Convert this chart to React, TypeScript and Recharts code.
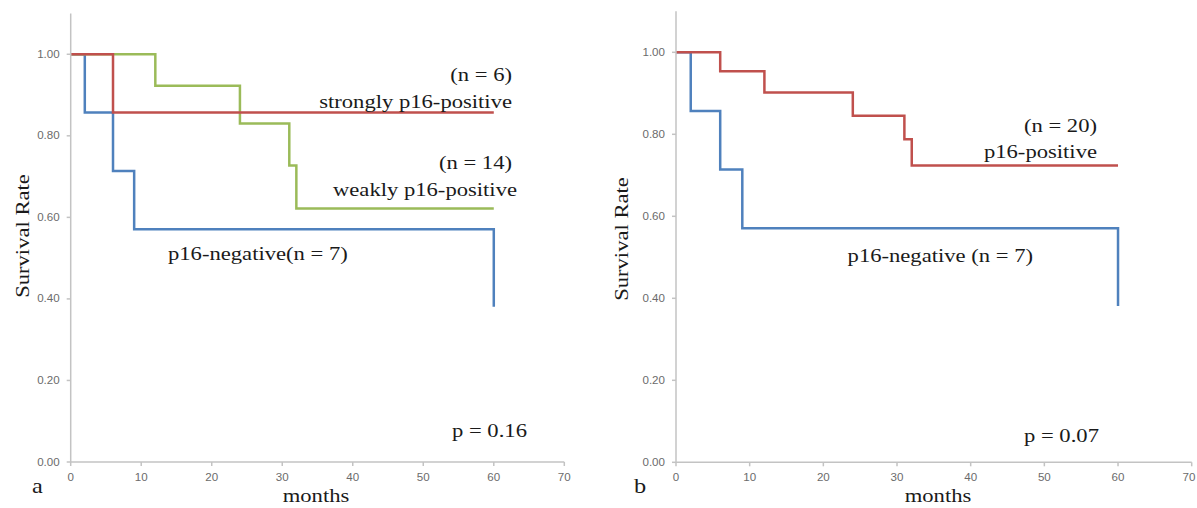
import { LineChart, Line, XAxis, YAxis } from "recharts";

// panel a
const negMonths = [0, 2, 6, 9, 60];
const negSurv = [1, 0.857, 0.714, 0.571, 0.381];
const strongMonths = [0, 6, 60];
const strongSurv = [1, 0.857, 0.857];
const weakMonths = [0, 12, 24, 31, 32, 60];
const weakSurv = [1, 0.923, 0.83, 0.727, 0.622, 0.622];

// panel b
const posMonths = [0, 6, 12, 24, 31, 32, 60];
const posSurv = [1, 0.954, 0.902, 0.845, 0.788, 0.724, 0.724];

const xTicks = [0, 10, 20, 30, 40, 50, 60, 70];
const yTicks = [0, 0.2, 0.4, 0.6, 0.8, 1.0];

const BLUE = "#4f81bd";
const RED = "#c0504d";
const GREEN = "#9bbb59";
const AXIS = "#c3c3c3";
const SX = 1.16; // source image is a bit wider than tall

const zip = (t: number[], s: number[]) => t.map((m, i) => ({ m, s: s[i] }));

const XTick = ({ x, y, payload }: any) => (
  <text transform={`translate(${x},${y}) scale(${SX},1)`} textAnchor="middle" dy="0.71em"
    fontFamily="Liberation Sans, Arial, sans-serif" fontSize={10} fill="#6b6b6b">
    {payload.value}
  </text>
);

const YTick = ({ x, y, payload }: any) => (
  <text transform={`translate(${x},${y}) scale(${SX},1)`} textAnchor="end" dy="0.355em"
    fontFamily="Liberation Sans, Arial, sans-serif" fontSize={10} fill="#6b6b6b">
    {Number(payload.value).toFixed(2)}
  </text>
);

type Series = { data: { m: number; s: number }[]; color: string };

function Panel({ left, width, margin, yWidth, series }: {
  left: number; width: number; yWidth: number;
  margin: { top: number; right: number; bottom: number; left: number };
  series: Series[];
}) {
  return (
    <div style={{ position: "absolute", left, top: 0 }}>
      <LineChart width={width} height={508} margin={margin}>
        <XAxis dataKey="m" type="number" domain={[0, 70]} ticks={xTicks} height={30}
          stroke={AXIS} strokeWidth={1.5} tickSize={4} tickMargin={8} tick={<XTick />}
          allowDuplicatedCategory={false} />
        <YAxis type="number" domain={[0, 1.1]} ticks={yTicks} width={yWidth}
          stroke={AXIS} strokeWidth={1.5} tickSize={4} tickMargin={7} tick={<YTick />} />
        {series.map((sr, i) => (
          <Line key={i} data={sr.data} dataKey="s" type="stepAfter" stroke={sr.color}
            strokeWidth={2.5} dot={false} isAnimationActive={false} />
        ))}
      </LineChart>
    </div>
  );
}

const T = ({ x, y, size = 19.5, anchor = "start", rotate = 0, children }: any) => (
  <text transform={`translate(${x},${y}) rotate(${rotate}) scale(${SX},1)`} textAnchor={anchor}
    fontFamily="Liberation Serif, Times New Roman, serif" fontSize={size} fill="#1a1a1a">
    {children}
  </text>
);

export default function App() {
  return (
    <div style={{ position: "absolute", left: 0, top: 0, width: 1197, height: 508, background: "#fff", overflow: "hidden" }}>
      <Panel left={0} width={600} yWidth={70.7}
        margin={{ top: 13.5, right: 35.7, bottom: 16, left: 0 }}
        series={[
          { data: zip(negMonths, negSurv), color: BLUE },
          { data: zip(weakMonths, weakSurv), color: GREEN },
          { data: zip(strongMonths, strongSurv), color: RED },
        ]} />
      <Panel left={600} width={597} yWidth={76}
        margin={{ top: 11.3, right: 5.3, bottom: 15.7, left: 0 }}
        series={[
          { data: zip(negMonths, negSurv), color: BLUE },
          { data: zip(posMonths, posSurv), color: RED },
        ]} />
      <svg width={1197} height={508} style={{ position: "absolute", left: 0, top: 0, pointerEvents: "none" }}>
        {/* panel a */}
        <T x={512} y={81} anchor="end">(n = 6)</T>
        <T x={512} y={108} anchor="end">strongly p16-positive</T>
        <T x={512} y={169} anchor="end">(n = 14)</T>
        <T x={517} y={196} anchor="end">weakly p16-positive</T>
        <T x={168} y={260}>p16-negative(n = 7)</T>
        <T x={452} y={437}>p = 0.16</T>
        <T x={32} y={493} size={21}>a</T>
        <T x={316} y={502} anchor="middle">months</T>
        <T x={29} y={236} anchor="middle" rotate={-90}>Survival Rate</T>
        {/* panel b */}
        <T x={1097} y={132} anchor="end">(n = 20)</T>
        <T x={1097} y={158} anchor="end">p16-positive</T>
        <T x={1033} y={262} anchor="end">p16-negative (n = 7)</T>
        <T x={1024} y={442}>p = 0.07</T>
        <T x={634} y={493} size={21}>b</T>
        <T x={938} y={502} anchor="middle">months</T>
        <T x={628} y={239} anchor="middle" rotate={-90}>Survival Rate</T>
      </svg>
    </div>
  );
}
